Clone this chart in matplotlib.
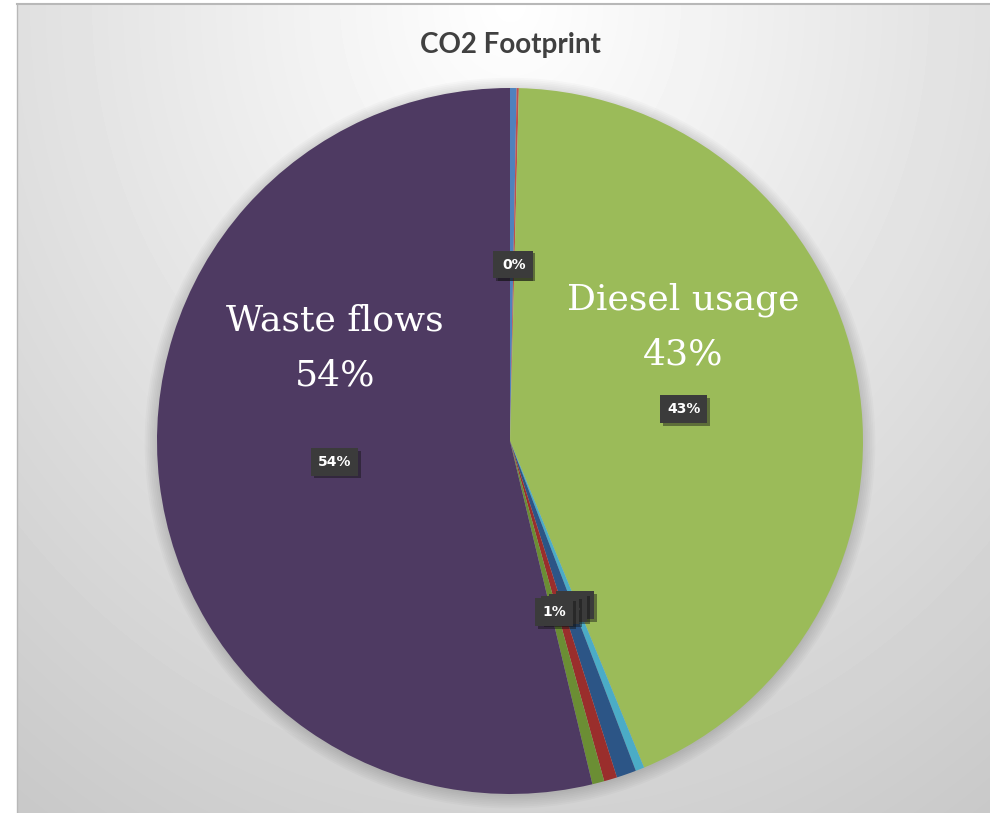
import numpy as np
import matplotlib.pyplot as plt
import matplotlib.patheffects as pe
from matplotlib.patches import Circle

# slice values (percent), clockwise from 12 o'clock
values = [0.3, 0.1, 43.4, 0.4, 0.9, 0.6, 0.55, 53.75]
colors = ['#4F81BD', '#C0504D', '#9BBB59', '#4BACC6',
          '#2C5586', '#9A2E2C', '#6B8E34', '#4E3A62']
big_labels = {2: 'Diesel usage', 7: 'Waste flows'}

W, H = 990, 813
fig = plt.figure(figsize=(W / 100, H / 100), dpi=100)
fig.patch.set_facecolor('white')

# grey backdrop, lightest at the top centre, darker to the sides and bottom
bx0, by0 = 17, 4
bg = fig.add_axes([bx0 / W, 0, 1 - bx0 / W, 1 - by0 / H])
bh, bw = H - by0, W - bx0
yy, xx = np.mgrid[0:bh, 0:bw]
dx = np.abs(xx - 493) / 480
yn = yy / bh
d = np.minimum(1, np.hypot(0.55 * dx, 0.8 * yn))
shade = 1.0 - 0.22 * d
bg.imshow(shade, cmap='gray', vmin=0, vmax=1, aspect='auto',
          interpolation='bilinear')
bg.axis('off')
fig.add_artist(plt.Line2D([bx0 / W, bx0 / W], [0, 1 - by0 / H],
                          color='#b8b8b8', lw=1))
fig.add_artist(plt.Line2D([bx0 / W, 1], [1 - by0 / H, 1 - by0 / H],
                          color='#b8b8b8', lw=1.5))

fig.text(510 / W, 1 - 45 / H, 'CO2 Footprint', ha='center', va='center',
         fontsize=20, fontweight='bold', color='#404040',
         family=['Lato', 'DejaVu Sans'])

cx, cy, r = 510, 441, 353
s = 1.1
ax = fig.add_axes([(cx - r * s) / W, (H - cy - r * s) / H,
                   2 * r * s / W, 2 * r * s / H])
ax.axis('off')

# soft shadow under the pie
for i in range(8):
    ax.add_patch(Circle((0.0, -0.006), 1.0 + 0.005 * i, color='black',
                        alpha=0.018, lw=0, zorder=0))

wedges, texts, autotexts = ax.pie(
    values, colors=colors, startangle=90, counterclock=False,
    autopct='%.0f%%', pctdistance=0.5, radius=1.0,
    wedgeprops=dict(linewidth=0),
    textprops=dict(color='white', fontsize=10, fontweight='bold'))
ax.set_xlim(-s, s)
ax.set_ylim(-s, s)
ax.set_aspect('equal')

for t in autotexts:
    t.set_bbox(dict(boxstyle='square,pad=0.5', facecolor='#3b3b3b',
                    edgecolor='none'))
    t.get_bbox_patch().set_path_effects(
        [pe.withSimplePatchShadow(offset=(2, -2), alpha=0.45), pe.Normal()])
    t.set_zorder(5)

# large category captions
for idx, name in big_labels.items():
    w = wedges[idx]
    mid = np.deg2rad((w.theta1 + w.theta2) / 2)
    x = 0.5 * np.cos(mid)
    y0 = 0.40 if idx == 2 else 0.34
    ax.text(x, y0, name, ha='center', va='center',
            color='white', fontsize=26, family='DejaVu Serif', zorder=6)
    ax.text(x, y0 - 0.155, f'{round(values[idx])}%',
            ha='center', va='center', color='white', fontsize=26,
            family='DejaVu Serif', zorder=6)

fig.savefig('out.png', dpi=100, facecolor=fig.get_facecolor())
